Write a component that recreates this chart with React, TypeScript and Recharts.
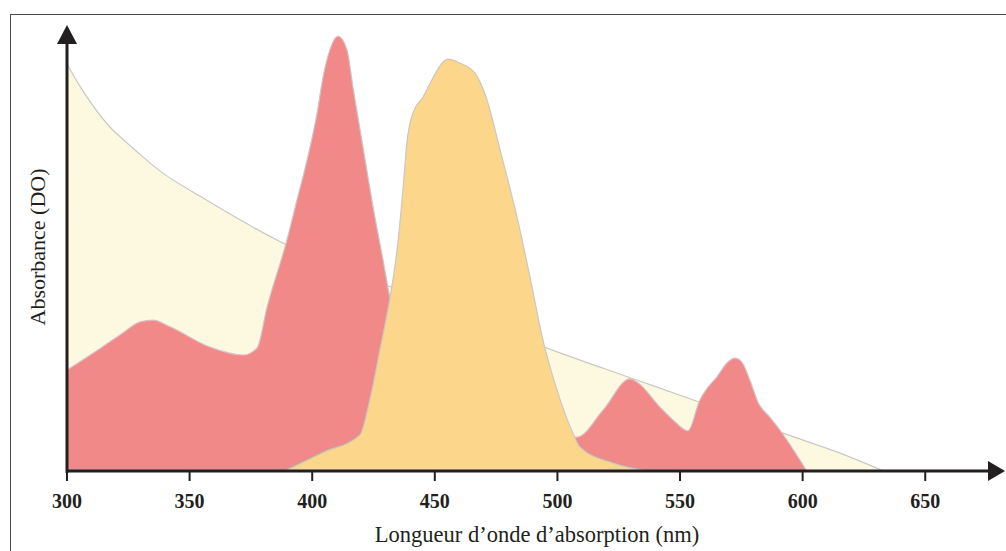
import React from "react";
import { Area, ComposedChart, XAxis, YAxis } from "recharts";

// wavelengths (nm) and absorbance (DO, relative)
const creamNm = [300, 305, 309, 317.5, 323, 330, 338, 354, 388, 444, 501, 530, 558, 592, 615, 633];
const creamDO = [0.923, 0.875, 0.841, 0.78, 0.751, 0.717, 0.68, 0.624, 0.517, 0.392, 0.268, 0.211, 0.156, 0.086, 0.041, 0];

const redNm = [
  300, 313.5, 322, 329.8, 335.1, 342, 358.3, 371.8, 377.5, 381.6, 389.7, 393.8, 397.9, 402, 404.4, 407.2, 410.5,
  414.2, 416.6, 420.7, 424.8, 428.9, 431.7, 443.9, 468.4, 492.9, 508, 518.6, 529.6, 532.4, 541.8,
  547.1, 553.2, 558.1, 561.4, 565, 569.1, 572.4, 575.2, 578.5, 581.8, 586.6, 590.7, 601.7,
];
const redDO = [
  0.229, 0.278, 0.31, 0.338, 0.342, 0.327, 0.281, 0.263, 0.279, 0.372, 0.524, 0.615, 0.705, 0.812, 0.893, 0.955, 0.986,
  0.955, 0.871, 0.735, 0.599, 0.478, 0.392, 0.195, 0.116, 0.082, 0.077, 0.138, 0.209, 0.202, 0.145,
  0.116, 0.091, 0.161, 0.19, 0.213, 0.245, 0.256, 0.247, 0.206, 0.156, 0.122, 0.093, 0,
];

const orangeNm = [
  388.9, 404, 419.5, 423.5, 427.6, 431.7, 434.6, 437, 438.6, 441.1, 445.2, 449.2, 453.3, 455.4, 460.2,
  466.4, 471.3, 476.6, 483.5, 488.8, 494.1, 499.8, 506.3, 509.2, 522.6, 536.5,
];
const orangeDO = [
  0, 0.041, 0.082, 0.161, 0.274, 0.392, 0.501, 0.637, 0.744, 0.812, 0.848, 0.891, 0.927, 0.934, 0.925,
  0.902, 0.841, 0.728, 0.576, 0.44, 0.297, 0.184, 0.086, 0.054, 0.018, 0,
];

const xTicks = [300, 350, 400, 450, 500, 550, 600, 650];

const INK = "#231f20";
const EDGE = "#c8c8c8";
const SERIF = '"Liberation Serif", "DejaVu Serif", serif';

function buildRows() {
  const rows = new Map<number, any>();
  const add = (xs: number[], ys: number[], key: string) =>
    xs.forEach((x, i) => {
      const r = rows.get(x) ?? { nm: x };
      r[key] = ys[i];
      rows.set(x, r);
    });
  add(creamNm, creamDO, "cream");
  add(redNm, redDO, "red");
  add(orangeNm, orangeDO, "orange");
  return [...rows.values()].sort((a, b) => a.nm - b.nm);
}

const rows = buildRows();

export default function App() {
  return (
    <div style={{ position: "fixed", left: 0, top: 0, width: 1006, height: 551, background: "#fff", overflow: "hidden" }}>
      {/* frame around the figure */}
      <div style={{ position: "absolute", left: 10, top: 14, width: 1100, height: 700, border: "1.3px solid #4a4a4a" }} />
      <div style={{ position: "absolute", left: 0, top: 0 }}>
        <ComposedChart width={1006} height={551} data={rows} margin={{ top: 30, right: 17, bottom: 40, left: 67 }}>
          <XAxis
            dataKey="nm"
            type="number"
            domain={[300, 676]}
            ticks={xTicks}
            allowDataOverflow
            height={40}
            axisLine={{ stroke: INK, strokeWidth: 3 }}
            tickLine={{ stroke: INK, strokeWidth: 2 }}
            tickSize={10}
            tickMargin={13}
            tick={{ fill: INK, fontSize: 20, fontWeight: 700, fontFamily: SERIF }}
          />
          <YAxis hide domain={[0, 1]} />
          <Area dataKey="cream" type="monotone" connectNulls fill="#fdf9e1" fillOpacity={1} stroke={EDGE} strokeWidth={1.2} isAnimationActive={false} />
          <Area dataKey="red" type="monotone" connectNulls fill="#f28989" fillOpacity={1} stroke={EDGE} strokeWidth={1.2} isAnimationActive={false} />
          <Area dataKey="orange" type="monotone" connectNulls fill="#fcd68a" fillOpacity={1} stroke={EDGE} strokeWidth={1.2} isAnimationActive={false} />
        </ComposedChart>
      </div>
      <svg width={1006} height={551} style={{ position: "absolute", left: 0, top: 0, pointerEvents: "none" }}>
        <line x1={67} y1={473} x2={67} y2={42} stroke={INK} strokeWidth={3} />
        <polygon points="67,25 57,44 77,44" fill={INK} />
        <polygon points="988,461 988,481 1005,471" fill={INK} />
        <text x={537} y={542} textAnchor="middle" fontFamily={SERIF} fontSize={22.5} fill={INK}>
          Longueur d’onde d’absorption (nm)
        </text>
        <text transform="translate(45,247) rotate(-90)" textAnchor="middle" fontFamily={SERIF} fontSize={22} fill={INK}>
          Absorbance (DO)
        </text>
      </svg>
    </div>
  );
}
